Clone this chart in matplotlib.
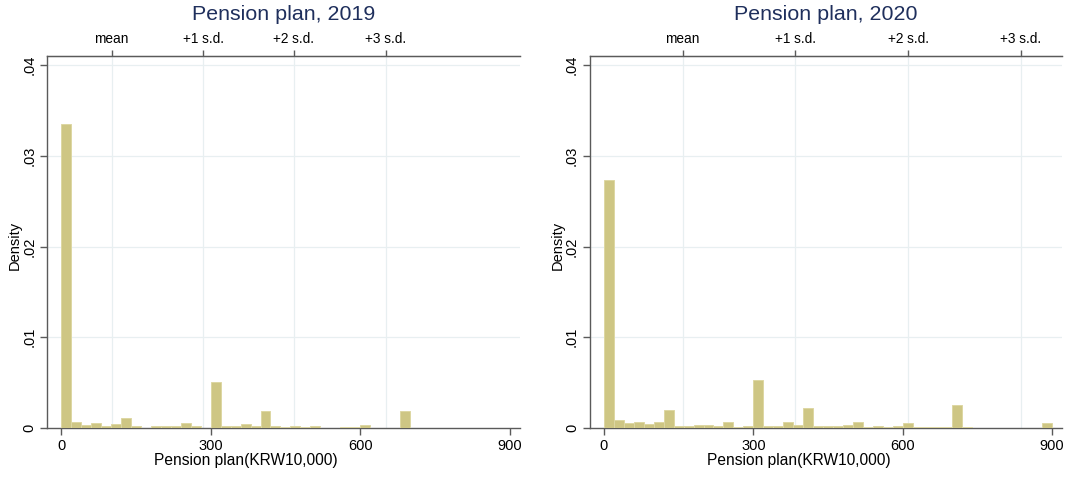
import numpy as np
import matplotlib
matplotlib.use("Agg")
import matplotlib.pyplot as plt

plt.rcParams['font.family'] = ['Liberation Sans', 'DejaVu Sans']

bin_width = 20
dens_2019 = [0.0335, 0.00066, 0.0003, 0.00055, 0.0002, 0.00045, 0.0011, 0.0002, 0.00005, 0.0002,
             0.0002, 0.0002, 0.0005, 0.0002, 0.0, 0.0051, 0.0002, 0.0002, 0.00045, 0.0002,
             0.0019, 0.0002, 0.0001, 0.0002, 0.0001, 0.0002, 0.00005, 0.00005, 0.0001, 0.0001,
             0.0003, 0.0, 0.0, 0.00005, 0.0019]
dens_2020 = [0.0273, 0.0009, 0.00055, 0.00065, 0.00045, 0.00065, 0.002, 0.0002, 0.0002, 0.0003,
             0.0003, 0.0002, 0.00065, 0.0001, 0.0002, 0.0053, 0.0002, 0.0002, 0.00065, 0.0003,
             0.0022, 0.0002, 0.0002, 0.0002, 0.0003, 0.00065, 0.0001, 0.0002, 0.0001, 0.0002,
             0.0005, 0.0001, 0.0001, 0.0001, 0.0001, 0.0025, 0.0001, 0.0, 0.0, 0.0, 0.0, 0.0, 0.0, 0.0,
             0.0005]
mean_sd_2019 = [101, 285, 467, 651]
mean_sd_2020 = [158, 384, 611, 837]
sd_labels = ['mean', '+1 s.d.', '+2 s.d.', '+3 s.d.']
titles = ['Pension plan, 2019', 'Pension plan, 2020']
x_ticks = [0, 300, 600, 900]
y_ticks = [0, 0.01, 0.02, 0.03, 0.04]
y_ticklabels = ['0', '.01', '.02', '.03', '.04']
xlabel = 'Pension plan(KRW10,000)'
ylabel = 'Density'

W, H = 1068, 495
fig = plt.figure(figsize=(W / 100, H / 100), dpi=100)
fig.patch.set_facecolor('white')

panels = [
    (dens_2019, mean_sd_2019, titles[0], (47.3, 519.6), 246, 15),
    (dens_2020, mean_sd_2020, titles[1], (590.0, 1062.0), 799, 558),
]
ytop, ybot = 56.0, 428.0
spine_col = '#5a5a5a'
bar_face = '#cec684'
bar_edge = '#ddd7a3'
grid_col = '#e8eff1'
title_col = '#1f2f5c'

for dens, msd, title, (x0, x1), xlab_x, ylab_x in panels:
    ax = fig.add_axes([x0 / W, 1 - ybot / H, (x1 - x0) / W, (ybot - ytop) / H])
    ax.set_xlim(-28, 920)
    ax.set_ylim(0, 0.041)
    edges = np.arange(len(dens)) * bin_width
    ax.bar(edges, dens, width=bin_width, align='edge', color=bar_face,
           edgecolor=bar_edge, linewidth=0.7, zorder=3)
    for v in y_ticks[1:]:
        ax.axhline(v, color=grid_col, lw=0.9, zorder=1)
    for v in msd:
        ax.axvline(v, color=grid_col, lw=0.9, zorder=1)
    ax.set_xticks(x_ticks)
    ax.set_xticklabels([str(t) for t in x_ticks], fontsize=10.5)
    ax.set_yticks(y_ticks)
    ax.set_yticklabels(y_ticklabels, fontsize=10.5, rotation=90, va='center')
    ax.spines['right'].set_visible(False)
    for s in ['left', 'bottom', 'top']:
        ax.spines[s].set_color(spine_col)
        ax.spines[s].set_linewidth(1.0)
    ax.tick_params(axis='both', colors=spine_col, labelcolor='black', length=5, width=1.0, pad=3)
    fig.text(xlab_x / W, 1 - 460 / H, xlabel, fontsize=11.2, ha='center', va='center')
    fig.text(ylab_x / W, 1 - 245 / H, ylabel, fontsize=10.5, ha='center', va='center', rotation=90)

    ax2 = ax.twiny()
    ax2.set_xlim(ax.get_xlim())
    ax2.set_xticks(msd)
    ax2.set_xticklabels(sd_labels, fontsize=9.8)
    ax2.tick_params(axis='x', colors=spine_col, labelcolor='black', length=4.5, width=1.0, pad=2.5)
    for s in ['right', 'left', 'bottom']:
        ax2.spines[s].set_visible(False)
    ax2.spines['top'].set_color(spine_col)
    x_mid = (x0 + x1) / 2
    fig.text(x_mid / W, 1 - 15 / H, title, fontsize=15.4, color=title_col, ha='center', va='center')

fig.savefig('out.png', dpi=100)
